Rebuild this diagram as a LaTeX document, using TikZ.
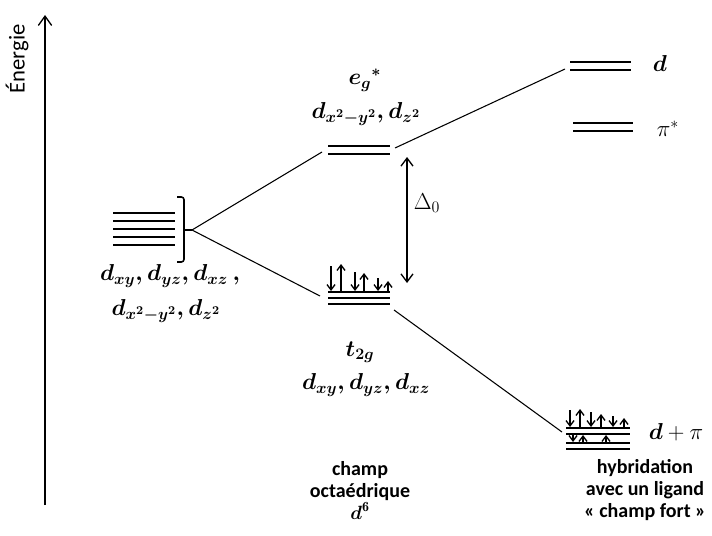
\documentclass[tikz,border=0pt]{standalone}
\usepackage{amsmath}
\usepackage{fontspec}
\setsansfont{Carlito}
\usetikzlibrary{positioning,arrows.meta,calc}
\tikzset{
  lvl/.style={line width=2pt},
  conn/.style={line width=0.8pt},
  elec/.style={line width=1pt,-{Straight Barb[length=4pt,width=6pt]}},
  mlab/.style={font=\fontsize{18}{22}\selectfont\boldmath},
  slab/.style={font=\fontsize{18}{22}\selectfont},
  tlab/.style={font=\sffamily\bfseries\fontsize{15}{16.5}\selectfont,align=center}
}
\begin{document}
\begin{tikzpicture}[x=0.75pt,y=-0.75pt,>=latex]
\useasboundingbox (0,0) rectangle (712,535);
% axe des energies
\coordinate (bas) at (45,505);
\coordinate (haut) at (45,15);
\draw[line width=1pt,-{Straight Barb[length=7pt,width=10pt]}] (bas) -- (haut);
\node[rotate=90,font=\sffamily\fontsize{17}{20}\selectfont] (energie) at (17,59) {Énergie};

% orbitales d degenerees
\foreach \y in {213,221,229,237,245}
  \draw[lvl] (113,\y) -- (175,\y);
\draw[line width=1.2pt,rounded corners=2pt] (177,197) -- (184,197) -- (184,262) -- (177,262);
\coordinate (gauche) at (192,230);
\draw[line width=1.2pt] (184,230) -- (gauche);
\node[mlab] (dlib1) at (170,276) {$d_{xy}, d_{yz}, d_{xz}\,,$};
\node[mlab] (dlib2) at (166,311) {$d_{x^2-y^2}, d_{z^2}$};

% niveaux eg
\foreach \y in {146,154}
  \draw[lvl] (328,\y) -- (390,\y);
\coordinate (eg-g) at (322,152);
\coordinate (eg-d) at (395,148);
\node[mlab] (eg) at (365,80) {$e_g{}^{*}$};
\node[mlab] (egd) at (366,114) {$d_{x^2-y^2}, d_{z^2}$};

% niveaux t2g
\foreach \y in {292,298,304}
  \draw[lvl] (328,\y) -- (390,\y);
\coordinate (t2g-g) at (320,296);
\coordinate (t2g-d) at (394,310);
\foreach \x/\h in {341/264,364/273,388/281}
  \draw[elec] (\x,292) -- (\x,\h);
\foreach \x/\h in {331/266,355/272,378/278}
  \draw[elec] (\x,\h) -- (\x,291);
\node[mlab] (t2g) at (360,352) {$t_{2g}$};
\node[mlab] (t2gd) at (366,385) {$d_{xy}, d_{yz}, d_{xz}$};

% ecart Delta
\coordinate (delta-h) at (407,157);
\coordinate (delta-b) at (407,283);
\draw[line width=1pt,{Straight Barb[length=6pt,width=9pt]}-{Straight Barb[length=6pt,width=9pt]}] (delta-h) -- (delta-b);
\node[slab] (delta) at (427,203) {$\Delta_0$};

% niveaux d et pi*
\foreach \y in {62,70}
  \draw[lvl] (570,\y) -- (631,\y);
\coordinate (dh-g) at (565,69);
\node[slab] (dh) at (660,63) {$\boldsymbol{d}$};
\foreach \y in {123,131}
  \draw[lvl] (573,\y) -- (633,\y);
\node[slab] (pis) at (668,129) {$\pi^{*}$};

% niveaux d + pi
\foreach \y in {428,434,443,449}
  \draw[lvl] (566,\y) -- (630,\y);
\coordinate (dpi-g) at (562,432);
\foreach \x/\h in {580/409,601/414,624/418}
  \draw[elec] (\x,428) -- (\x,\h);
\foreach \x/\h in {570/410,591/412,613/416}
  \draw[elec] (\x,\h) -- (\x,427);
\foreach \x in {583,606}
  \draw[elec] (\x,443) -- (\x,435);
\draw[elec] (573,435) -- (573,442);
\node[slab] (dpi) at (676,432) {$\boldsymbol{d}+\pi$};

% liaisons
\draw[conn] (gauche) -- (eg-g);
\draw[conn] (gauche) -- (t2g-g);
\draw[conn] (eg-d) -- (dh-g);
\draw[conn] (t2g-d) -- (dpi-g);

% legendes
\node[tlab] (champ) at (360,490) {champ\\octaédrique\\$\boldsymbol{d}^{\mathbf{6}}$};
\node[tlab] (hybr) at (645,490) {hybridation\\avec un ligand\\« champ fort »};
\end{tikzpicture}
\end{document}
